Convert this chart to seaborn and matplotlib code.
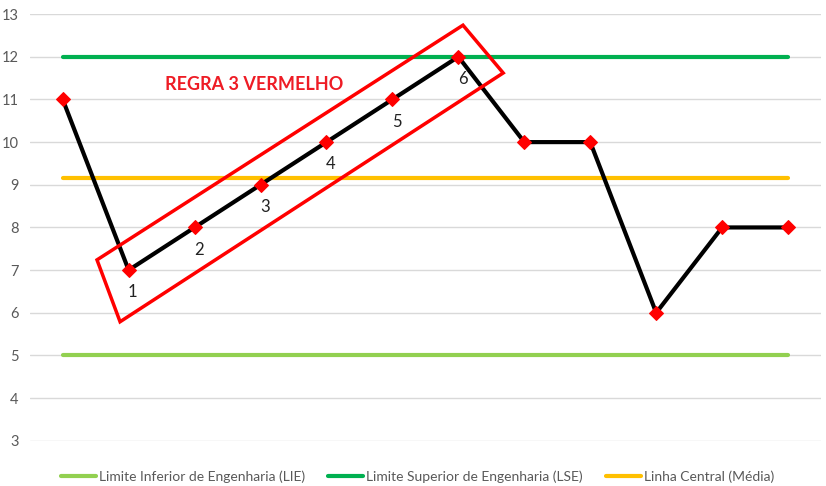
import numpy as np
import pandas as pd
import matplotlib
matplotlib.use("Agg")
import matplotlib.pyplot as plt
import seaborn as sns
from matplotlib.patches import Polygon

# data
amostras = list(range(12))
valores = [11, 7, 8, 9, 10, 11, 12, 10, 10, 6, 8, 8]
lie = 5
lse = 12
media = np.mean(valores)
rotulos = ["1", "2", "3", "4", "5", "6"]
idx_regra = [1, 2, 3, 4, 5, 6]
caixa = [(0.52, 7.24), (0.87, 5.79), (6.68, 11.62), (6.07, 12.74)]

sns.set_style("white")
plt.rcParams["font.family"] = ["Lato", "DejaVu Sans"]

fig = plt.figure(figsize=(8.26, 4.86), dpi=100)
ax = fig.add_axes([0.036, 0.093, 0.958, 0.878])

limites = pd.DataFrame({
    "x": amostras * 3,
    "y": [lie] * 12 + [lse] * 12 + [media] * 12,
    "serie": ["Limite Inferior de Engenharia (LIE)"] * 12
    + ["Limite Superior de Engenharia (LSE)"] * 12
    + ["Linha Central (Média)"] * 12,
})
sns.lineplot(data=limites, x="x", y="y", hue="serie",
             palette=["#92D050", "#00B050", "#FFC000"], linewidth=3, ax=ax)

sns.lineplot(x=amostras, y=valores, color="black", linewidth=3, marker="D",
             markersize=7, markerfacecolor="red", markeredgecolor="red",
             legend=False, ax=ax, zorder=5)

for r, i in zip(rotulos, idx_regra):
    ax.annotate(r, (amostras[i], valores[i]), xytext=(3, -16), textcoords="offset points",
                ha="center", va="center", fontsize=12, color="#222222", zorder=6)

ax.add_patch(Polygon(caixa, closed=True, fill=False, edgecolor="red", linewidth=2.5, zorder=7))
ax.text(2.9, 11.36, "REGRA 3 VERMELHO", color="#EE1C25", fontsize=13, fontweight="bold",
        ha="center", va="center")

ax.set_xlim(-0.5, 11.5)
ax.set_ylim(3, 13)
ax.set_yticks(range(3, 14))
ax.yaxis.grid(True, color="#D9D9D9", linewidth=1)
ax.set_xticks([])
ax.set_xlabel("")
ax.set_ylabel("")
ax.tick_params(axis="y", length=0, labelsize=10.5, labelcolor="#595959", pad=8)
sns.despine(ax=ax, left=True, bottom=True)

ax.legend(loc="upper center", bbox_to_anchor=(0.49, -0.04), ncol=3, frameon=False,
          fontsize=10, labelcolor="#595959", handlelength=2.5, handletextpad=0.2,
          columnspacing=1.7)

fig.savefig("out.png", dpi=100)
